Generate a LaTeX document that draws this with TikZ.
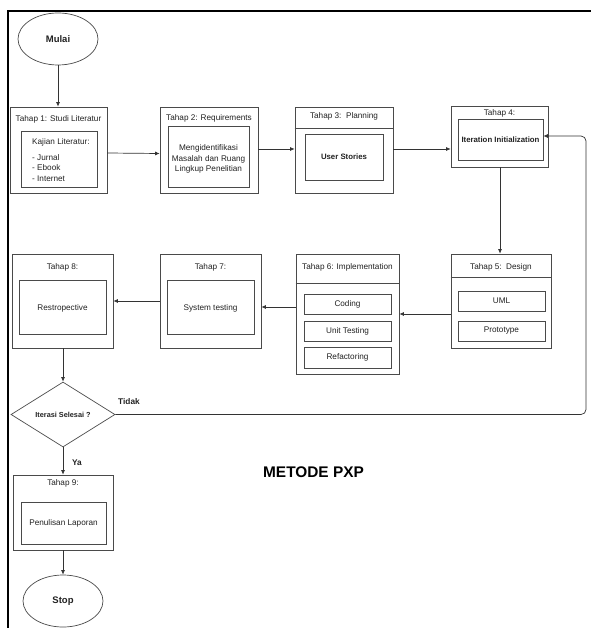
\documentclass[tikz,border=0pt]{standalone}
\usepackage{fontspec}
\setmainfont{Liberation Sans}
\usetikzlibrary{shapes.geometric,arrows.meta}
\definecolor{ink}{HTML}{222222}
\definecolor{edge}{HTML}{4A4A4A}
\tikzset{
  sz/.style 2 args={minimum width=#1pt, minimum height=#2pt},
  box/.style={draw=edge, line width=0.7pt, rectangle, inner sep=0pt},
  txt/.style={text=ink, font=\fontsize{8.2}{10.5}\selectfont, inner sep=0pt, align=center},
  btxt/.style={text=ink, font=\fontsize{7.8}{10}\selectfont\bfseries, inner sep=0pt, align=center},
  conn/.style={draw=black!80, line width=0.7pt, -{Latex[length=4.5pt,width=4pt]}},
  term/.style={draw=edge, line width=0.7pt, ellipse, inner sep=0pt, text=ink, font=\fontsize{9.5}{11}\selectfont\bfseries}
}
\begin{document}
\begin{tikzpicture}[x=1pt,y=-1pt]
\useasboundingbox (0,0) rectangle (591,628);
\fill[white] (0,0) rectangle (591,628);
% frame
\draw[line width=2pt, line join=miter] (8,628) -- (8,11) -- (591,11);

% start
\node[term, sz={80}{52}] (mulai) at (58,39) {Mulai};

% Tahap 1
\node[box, sz={97}{86}] (t1) at (58.5,150) {};
\node[txt] (t1t) at (58.5,119) {Tahap 1: Studi Literatur};
\node[box, sz={76}{56}] (t1in) at (59,159) {};
\node[txt, align=left, anchor=west] (t1txt) at (32,160) {Kajian Literatur:\\[5pt]- Jurnal\\- Ebook\\- Internet};

% Tahap 2
\node[box, sz={98}{86}] (t2) at (209,150) {};
\node[txt] (t2t) at (209,118) {Tahap 2: Requirements};
\node[box, sz={81}{61}] (t2in) at (208.5,156.5) {};
\node[txt] (t2txt) at (208.5,159) {Mengidentifikasi\\Masalah dan Ruang\\Lingkup Penelitian};

% Tahap 3
\node[box, sz={98}{86}] (t3) at (344,150) {};
\draw[edge, line width=0.7pt] (t3.west |- 0,128) -- (t3.east |- 0,128);
\node[txt] (t3t) at (344,116) {Tahap 3:\ \ Planning};
\node[box, sz={78}{46}] (t3in) at (344,157) {};
\node[btxt] (t3txt) at (344,157) {User Stories};

% Tahap 4
\node[box, sz={97}{61}] (t4) at (499.5,136.5) {};
\node[txt] (t4t) at (499.5,113) {Tahap 4:};
\node[box, sz={85}{41}] (t4in) at (500.5,139.5) {};
\node[btxt] (t4txt) at (500.5,140) {Iteration Initialization};

% Tahap 5
\node[box, sz={100}{94}] (t5) at (501,301) {};
\draw[edge, line width=0.7pt] (t5.west |- 0,277) -- (t5.east |- 0,277);
\node[txt] (t5t) at (501,267) {Tahap 5:\ \ Design};
\node[box, sz={87}{20}] (uml) at (501.5,301) {};
\node[txt] (umltxt) at (501.5,301) {UML};
\node[box, sz={87}{20}] (proto) at (501.5,331) {};
\node[txt] (prototxt) at (501.5,331) {Prototype};

% Tahap 6
\node[box, sz={103}{120}] (t6) at (347.5,314) {};
\draw[edge, line width=0.7pt] (t6.west |- 0,283) -- (t6.east |- 0,283);
\node[txt] (t6t) at (347.5,267) {Tahap 6: Implementation};
\node[box, sz={87}{20}] (cod) at (347.5,304) {};
\node[txt] (codtxt) at (347.5,304) {Coding};
\node[box, sz={87}{20}] (unit) at (347.5,331) {};
\node[txt] (unittxt) at (347.5,331) {Unit Testing};
\node[box, sz={87}{21}] (refa) at (347.5,357.5) {};
\node[txt] (refatxt) at (347.5,357.5) {Refactoring};

% Tahap 7
\node[box, sz={101}{94}] (t7) at (210.5,301) {};
\node[txt] (t7t) at (210.5,267) {Tahap 7:};
\node[box, sz={87}{54}] (t7in) at (210.5,307) {};
\node[txt] (t7txt) at (210.5,308) {System testing};

% Tahap 8
\node[box, sz={101}{94}] (t8) at (62.5,301) {};
\node[txt] (t8t) at (62.5,267) {Tahap 8:};
\node[box, sz={87}{54}] (t8in) at (62.5,307) {};
\node[txt] (t8txt) at (62.5,308) {Restropective};

% decision
\node[draw=edge, line width=0.7pt, diamond, sz={104}{65}, inner sep=0pt, text=ink,
      font=\fontsize{7.3}{9}\selectfont\bfseries] (dia) at (63,414.5) {Iterasi Selesai ?};

% Tahap 9
\node[box, sz={100}{75}] (t9) at (63,512.5) {};
\node[txt] (t9t) at (63,483) {Tahap 9:};
\node[box, sz={85}{42}] (t9in) at (63.5,523) {};
\node[txt] (t9txt) at (63.5,523) {Penulisan Laporan};

% stop
\node[term, sz={80}{52}] (stop) at (63,601) {Stop};

% title
\node[text=black, inner sep=0pt, font=\fontsize{15.4}{18}\selectfont\bfseries] (judul) at (313.5,472) {METODE PXP};

% labels
\node[btxt, font=\fontsize{8.3}{10}\selectfont\bfseries] (tidak) at (129,402) {Tidak};
\node[btxt, font=\fontsize{8.3}{10}\selectfont\bfseries] (ya) at (77,463) {Ya};

% connectors
\draw[conn] (mulai.south) -- (t1.north -| mulai.south);
\draw[conn] (t1.east |- 0,153) -- (t2.west |- 0,153.5);
\draw[conn] (t2.east |- 0,149) -- (t3.west |- 0,149);
\draw[conn] (t3.east |- 0,149) -- (t4.west |- 0,149);
\draw[conn] (t4.south -| 500,0) -- (t5.north -| 500,0);
\draw[conn] (t5.west |- 0,314) -- (t6.east |- 0,314);
\draw[conn] (t6.west |- 0,307) -- (t7.east |- 0,307);
\draw[conn] (t7.west |- 0,301) -- (t8.east |- 0,301);
\draw[conn] (t8.south -| dia.north) -- (dia.north);
\draw[conn] (dia.south) -- (t9.north -| dia.south);
\draw[conn] (t9.south -| dia.south) -- (stop.north -| dia.south);
\coordinate (fbA) at (586,414.5);
\coordinate (fbB) at (586,136);
\draw[conn, rounded corners=5pt] (dia.east) -- (fbA) -- (fbB) -- (t4in.east |- fbB);
\end{tikzpicture}
\end{document}
